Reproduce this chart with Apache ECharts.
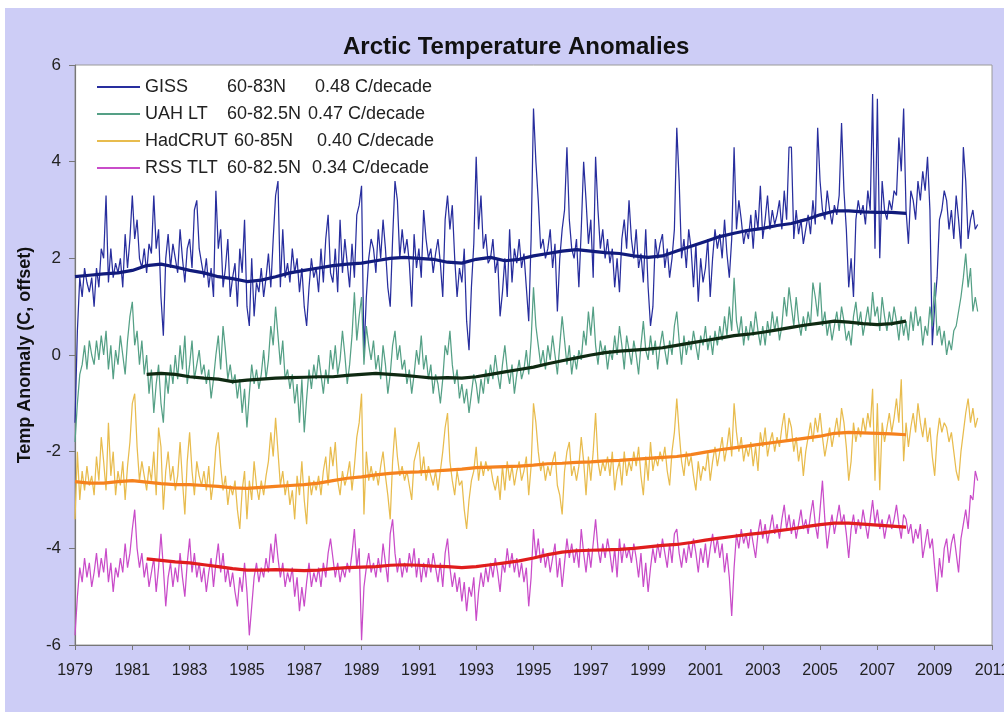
<!DOCTYPE html>
<html>
<head>
<meta charset="utf-8">
<script src="https://cdn.jsdelivr.net/npm/echarts@6/dist/echarts.min.js"></script>
<style>
  html, body { margin: 0; padding: 0; background: #ffffff; overflow: hidden; }
  #frame { position: absolute; left: 5px; top: 8px; width: 999px; height: 704px; background: #cdcdf6; }
  #chart { width: 999px; height: 704px; }
</style>
</head>
<body>
<div id="frame"><div id="chart"></div></div>
<script>
// Monthly anomalies (C, each series offset vertically), Jan 1979 onward
const START_YEAR = 1979;

const gissMonthly = [
  -1.4, 0.5, 1.6, 1.2, 1.8, 1.5, 1.3, 1.6, 1.0, 1.8, 1.4, 2.2,
  2.0, 3.3, 1.5, 2.2, 1.6, 1.9, 1.7, 2.0, 1.4, 2.5, 1.8, 2.4,
  3.3, 2.4, 2.8, 2.0, 1.8, 2.2, 1.7, 2.3, 2.1, 3.3, 2.2, 2.6,
  1.2, 0.4, 2.0, 2.5, 1.8, 2.3, 2.0, 1.7, 2.6, 2.0, 1.5, 2.2,
  2.4, 1.8, 3.0, 3.2, 2.2, 1.9, 1.6, 2.0, 1.4, 1.8, 1.2, 3.4,
  2.2, 2.6, 1.4, 1.8, 2.4, 1.2, 1.6, 1.9, 1.0, 2.2, 1.7, 2.8,
  1.0, 0.6, 2.0, 0.8, 1.5, 1.3, 1.8, 1.2, 1.6, 2.1, 1.4, 2.4,
  3.3, 3.6, 1.4, 2.6, 1.6, 1.9, 1.5, 2.2, 1.7, 2.0, 1.3, 1.8,
  1.0, 0.6, 1.4, 2.0, 1.6, 1.8, 1.3, 2.2, 1.5, 2.4, 2.9, 1.7,
  1.5, 2.2, 1.3, 2.8, 1.7, 2.4, 1.9, 1.4, 2.3, 1.6, 2.9, 3.1,
  3.5, 0.0, 1.2, 2.0, 2.4, 2.2, 1.7, 2.6, 2.0, 2.8, 2.2, 1.4,
  1.0, 2.4, 3.6, 3.2, 2.0, 2.6, 2.1, 2.4, 1.9, 1.0, 2.5, 1.8,
  2.2, 1.6, 3.0, 2.4, 2.0, 2.2, 1.7, 2.1, 2.4, 1.9, 1.2, 2.8,
  3.3, 2.6, 3.1, 2.0, 1.2, 1.8, 1.5, 2.2, 0.7, 0.1, 1.4, 2.3,
  4.1, 2.6, 3.3, 2.2, 2.5, 1.9, 2.0, 2.4, 1.7, 2.0, 0.8, 1.3,
  2.0, 1.2, 2.6, 1.5, 2.2, 1.9, 2.4, 1.8, 2.1, 1.4, 0.7, 2.4,
  5.1, 4.0, 3.2, 2.2, 2.4, 2.0, 2.2, 2.6, 1.8, 2.3, 0.9, 2.0,
  2.6, 3.0, 4.3, 2.8, 2.2, 2.0, 2.4, 1.4, 2.6, 4.0, 3.2, 2.3,
  2.8, 1.6, 4.1, 3.0, 2.2, 2.6, 2.0, 2.4, 1.9, 2.2, 1.4, 2.0,
  1.3, 2.4, 2.8, 2.2, 3.2, 2.4, 2.0, 2.6, 1.8, 2.1, 1.5, 2.6,
  1.4, 0.6, 1.0, 2.4, 2.0, 2.3, 2.5, 1.8, 2.2, 1.6, 2.0, 2.6,
  4.7, 3.6, 2.0, 2.4, 1.8, 2.6, 2.2, 1.4, 2.3, 1.1, 2.0, 1.5,
  1.8, 2.4, 1.2, 2.0, 2.6, 2.2, 2.5, 2.0, 2.8, 2.1, 1.6, 2.4,
  4.3, 2.6, 3.2, 2.8, 2.3, 2.6, 2.4, 2.9, 2.2, 3.0, 2.6, 3.5,
  2.4, 2.8, 3.3, 2.6, 3.0, 2.7, 2.9, 3.2, 2.6, 3.4, 2.8, 4.3,
  4.3, 2.4, 3.0, 2.5, 2.8, 2.3, 2.6, 2.9, 2.5, 3.2, 2.7, 4.7,
  3.6, 3.0, 2.8, 3.4, 3.0, 2.7, 3.1, 2.9, 3.3, 4.8, 3.4, 2.6,
  1.4, 2.0, 1.2, 2.8, 3.2, 2.9, 3.1, 2.7, 3.4, 3.0, 5.4, 2.2,
  5.3, 2.0, 3.6, 3.0, 2.8, 3.2, 3.0, 3.4, 3.3, 4.5, 3.8, 5.1,
  3.0, 2.3, 3.4, 3.2, 2.8, 3.6, 3.2, 3.8, 3.4, 4.1, 3.0, 0.2,
  1.0, 1.6, 2.8, 3.0, 3.4, 3.2, 2.6, 3.0, 2.4, 3.3, 2.8, 2.2,
  4.3, 3.6, 2.4, 2.8, 3.0, 2.6, 2.7
];

const uahMonthly = [
  -1.8, -1.0, -0.4, -0.2, 0.2, -0.3, 0.3, 0.0, -0.2, 0.3, -0.1, 0.4,
  0.0, 0.5, -0.3, 0.2, -0.5, 0.1, -0.2, 0.4, 0.0, -0.4, 0.3, 0.8,
  1.1, 0.2, 0.5, -0.2, 0.3, -0.4, 0.0, -0.8, -0.3, -1.2, -0.6, -0.2,
  -1.0, -1.4, -0.4, -0.8, -0.2, -0.6, 0.0, -0.5, 0.2, -0.3, 0.4, -0.6,
  -0.2, 0.3, -0.5, -0.2, 0.1, -0.4, -0.2, -0.6, -0.3, -0.9, -0.5, 0.0,
  0.4, -0.3, 0.6, 0.1, -0.5, -0.2, -0.6, -0.4, -0.9, -0.5, -1.2, -0.7,
  -1.5, -0.8, -0.2, -0.6, -0.3, -0.7, -0.4, 0.1, -0.5, -0.1, 0.6, 0.2,
  1.0, 0.4, -0.2, 0.3, -0.5, -0.3, -0.7, -0.4, -1.0, -0.6, -1.4, -0.5,
  -1.6, -0.9, -0.3, -0.7, -0.2, -0.5, 0.0, -0.4, -0.8, -0.3, -0.6, 0.1,
  -0.3, 0.2, -0.4, -0.1, 0.5, 0.0, -0.6, -0.2, 0.4, 1.3, 0.3, 0.8,
  1.2, -0.2, 0.6, 0.2, -0.1, 0.3, -0.3, 0.0, -0.5, 0.2, -0.2, -0.8,
  -0.4, 0.2, 0.5, -0.1, 0.2, -0.3, -0.1, -0.6, -0.3, -0.8, -0.4, 0.1,
  -0.2, 0.4, -0.3, 0.0, -0.5, -0.2, -0.8, -0.4, -0.6, -1.0, -0.5, 0.2,
  0.0, 0.5, -0.2, -0.6, -0.3, -0.9, -0.6, -1.0, -0.7, -1.2, -0.8, -0.4,
  -0.6, -1.0, -0.5, -0.8, -0.3, -0.6, -0.2, -0.5, 0.0, -0.4, -0.7, -0.2,
  0.2, -0.3, -0.6, -0.2, -0.8, -0.4, -0.1, -0.5, -0.3, 0.1, -0.4, 0.3,
  1.4, 0.6, 0.2, -0.2, 0.1, -0.3, 0.2, -0.1, 0.4, 0.0, -0.4, 0.2,
  0.8, 0.3, -0.2, 0.2, -0.4, 0.0, -0.3, 0.1, -0.1, 0.5, 0.2, 0.9,
  0.4, 1.0, 0.2, -0.2, 0.3, 0.0, 0.2, -0.3, 0.1, -0.1, 0.4, 0.0,
  0.6, 0.2, -0.3, 0.4, 0.1, -0.2, 0.3, 0.0, -0.4, 0.2, 0.7, 0.1,
  -0.1, 0.4, 0.0, 0.3, -0.3, 0.2, 0.5, 0.1, -0.2, 0.3, 0.0, 0.6,
  0.9, 0.3, -0.2, 0.4, 0.0, 0.3, 0.1, 0.5, 0.2, -0.1, 0.4, 0.2,
  0.6, 0.1, 0.4, 0.0, 0.5, 0.2, 0.6, 0.3, 0.8, 0.4, 1.0, 0.5,
  1.6, 0.7, 0.4, 0.8, 0.2, 0.6, 0.3, 0.7, 0.4, 0.9, 0.5, 0.2,
  0.6, 0.2, 0.7, 0.4, 0.9, 0.5, 0.8, 0.3, 0.6, 1.2, 0.8, 1.4,
  1.0, 0.6, 1.2, 0.7, 0.4, 0.8, 0.5, 0.9, 0.6, 1.5, 1.2, 0.8,
  1.5, 0.6, 0.9, 0.4, 0.7, 0.3, 0.6, 0.9, 0.5, 1.0, 0.7, 0.3,
  0.5, 0.2, 0.8, 1.1, 0.6, 0.9, 0.4, 0.7, 1.0, 0.6, 1.3, 0.8,
  1.0, 0.5, 1.2, 0.8, 0.5, 0.9, 0.6, 1.0, 0.7, 0.3, 0.8, 0.4,
  0.7, 0.3, 0.9, 0.5, 1.0, 0.6, 0.8, 0.2, 0.6, 0.4, 1.0, 0.6,
  1.5, 0.4, 0.6, 0.2, 0.5, 0.0, 0.3, 0.1, 0.5, 0.6, 0.9, 1.2,
  1.6, 2.1, 1.4, 1.8, 0.9, 1.2, 0.9
];

const hadcrutMonthly = [
  -3.4, -2.0, -3.0, -2.4, -2.8, -2.3, -2.7, -2.5, -2.9, -2.1, -2.6, -1.7,
  -2.2, -2.8, -1.4, -2.5, -2.0, -2.9, -2.4, -2.7, -2.2, -3.0, -2.3, -1.8,
  -1.0, -0.8, -1.9, -2.6, -2.2, -2.5, -2.8, -2.3, -2.6, -2.0, -2.9, -1.5,
  -1.9, -3.2, -2.4, -2.0, -2.6, -2.3, -2.8, -2.5, -1.8, -2.6, -3.3, -2.2,
  -1.6, -2.4, -2.9, -2.2, -2.5, -2.7, -2.4, -2.8, -2.3, -3.0, -2.6, -1.9,
  -1.6, -2.3, -2.8, -2.5, -3.1, -2.7, -2.9, -2.6, -3.2, -3.6, -2.8, -2.4,
  -3.4, -2.6, -3.0, -2.2, -2.7, -3.0, -2.6, -2.9, -2.5, -2.2, -1.6, -2.1,
  -1.3, -2.0, -2.7, -2.4, -2.9, -2.6, -3.1, -2.8, -3.4, -2.5, -2.9, -2.2,
  -3.0, -3.5, -2.5, -2.9, -2.6, -2.8, -2.5, -2.9, -2.4, -2.1, -2.7, -1.9,
  -2.3, -1.8, -2.6, -2.9, -2.4, -2.7, -2.5, -2.2, -2.8, -2.3, -1.7, -1.4,
  -0.8, -3.3, -2.0, -2.6, -2.3, -2.6, -2.4, -2.7, -2.3, -2.0, -2.5, -2.9,
  -3.4, -2.2, -1.5, -2.1, -2.5, -2.3, -2.6, -2.4, -2.7, -3.0, -2.2, -2.0,
  -1.8, -2.5, -2.1, -2.6, -2.3, -2.5, -2.7, -2.4, -2.8, -2.4, -2.0, -1.5,
  -1.2, -2.2, -2.6, -2.9, -2.4, -2.7, -2.6, -3.2, -3.6, -3.0, -2.6, -2.4,
  -1.9, -2.6, -2.2, -2.5, -2.2, -2.4, -2.3, -2.6, -2.8, -2.5, -3.0, -2.3,
  -2.8, -2.2, -2.6, -2.3, -2.7, -2.4, -2.2, -2.6, -2.4, -2.1, -2.9, -2.3,
  -1.0, -1.4, -2.0, -2.4, -2.2, -2.6, -2.3, -2.5, -2.2, -2.0, -2.7, -2.9,
  -3.3, -2.4, -2.0, -1.8, -2.5, -2.3, -2.6, -2.3, -1.7, -2.2, -2.9, -2.1,
  -2.6, -2.0, -1.2, -2.2, -2.5, -2.2, -2.4, -2.1, -2.5, -2.0, -2.8, -2.4,
  -2.2, -2.7, -2.0, -2.5, -2.2, -2.4, -2.0, -2.3, -1.9, -2.5, -2.9, -2.1,
  -2.6, -1.8, -2.4, -2.1, -2.3, -2.0, -2.2, -1.9, -2.4, -2.7, -2.0, -1.6,
  -0.9, -1.6, -2.2, -2.5, -2.0, -2.3, -2.1, -2.5, -2.8, -2.2, -2.6, -2.3,
  -2.4, -2.0, -2.6, -2.2, -1.9, -2.3, -2.0, -1.7, -2.2, -1.9, -1.5, -2.1,
  -1.0, -1.6, -2.0, -1.7, -2.2, -1.9, -2.1, -1.8, -2.3, -1.9, -2.4, -1.6,
  -1.9, -1.5, -2.1, -1.8, -1.6, -2.0, -1.7, -1.9, -1.5, -1.2, -1.8, -1.3,
  -1.5, -2.0, -1.7, -2.2, -1.9, -2.5, -2.0, -1.7, -1.4, -1.8, -1.3, -1.6,
  -1.2, -1.7, -2.1, -1.8, -1.5, -1.9, -1.6, -1.3, -1.7, -1.1, -1.4, -1.9,
  -2.6, -2.2, -1.4, -1.8, -1.5, -1.7, -1.3, -1.6, -1.2, -1.5, -0.7, -2.6,
  -1.0, -2.8, -1.4, -1.8, -1.5, -1.2, -1.6, -1.3, -0.9, -1.4, -0.5, -2.2,
  -1.4, -1.9, -1.5, -1.2, -1.6, -1.0, -1.4, -1.7, -1.3, -1.8, -1.5, -2.1,
  -2.5, -1.7, -1.3, -1.6, -1.4, -1.5, -1.8, -1.6, -2.0, -2.4, -2.6, -2.0,
  -1.6, -1.2, -0.9, -1.4, -1.1, -1.5, -1.3
];

const rssMonthly = [
  -5.8, -5.0, -4.4, -4.7, -4.2, -4.6, -4.3, -4.8, -4.5, -4.1, -4.6, -4.2,
  -4.5, -4.0, -4.7, -4.3, -4.9, -4.4, -4.6, -4.2, -4.5, -3.9, -4.4, -4.1,
  -3.6, -3.2, -4.0, -4.4, -4.1, -4.6, -4.3, -4.8, -4.5, -4.2, -4.9, -4.4,
  -3.7, -4.4, -5.2, -4.6, -4.3, -4.8, -4.4, -4.7, -4.1, -4.6, -5.0, -4.3,
  -3.8, -4.5, -4.1, -4.6, -4.3, -4.7, -4.4, -4.9, -4.5, -4.2, -4.8, -4.3,
  -3.9, -4.5, -4.1, -4.7, -4.4, -4.8, -4.5, -4.9, -5.2, -4.6, -4.9, -4.3,
  -4.9, -5.8, -5.2, -4.6, -4.3, -4.7, -4.4, -4.6, -4.2, -4.5, -3.9, -4.3,
  -3.7, -4.2, -4.6, -4.3, -4.8, -4.5, -4.7, -4.4, -5.0, -4.6, -5.3, -4.8,
  -5.2, -4.7, -4.3, -4.8, -4.5, -4.7, -4.4, -4.8, -4.3, -4.6, -4.1, -3.8,
  -4.2, -4.6, -4.3, -4.7, -4.4, -4.6, -4.3, -4.5, -4.1, -3.6, -4.4, -4.0,
  -5.9, -4.8, -4.4, -4.1, -4.5, -4.3, -4.6, -4.2, -4.5, -3.9, -4.3, -4.7,
  -3.7, -3.4, -4.1, -4.5, -4.2, -4.6, -4.3, -4.5, -4.1, -4.4, -4.0, -4.6,
  -4.2, -4.7, -4.3, -4.6, -4.2, -4.5, -4.1, -4.4, -4.7, -4.3, -4.8, -4.1,
  -3.8, -4.4, -4.8, -4.5, -4.9, -4.6, -5.1, -4.7, -5.3, -4.8, -5.0, -4.6,
  -5.5, -4.9, -4.5, -4.8, -4.4, -4.7, -4.3, -4.6, -4.2, -4.5, -4.9, -4.3,
  -4.5, -4.0, -4.4, -4.1, -4.5, -4.2, -4.6, -4.3, -4.7, -4.4, -5.2, -4.6,
  -3.6, -4.2, -3.8, -4.3, -4.0, -4.4, -4.1, -4.5, -4.2, -3.9, -4.6, -4.2,
  -4.8, -4.3, -3.8, -4.2, -3.9, -4.3, -4.0, -4.4, -3.6, -4.1, -4.5, -4.0,
  -4.4, -3.9, -3.4, -4.0, -4.3, -3.9, -4.2, -3.8, -4.1, -4.5, -4.0, -4.6,
  -3.8, -4.3, -3.9, -4.2, -4.0, -4.3, -3.9, -4.2, -4.6, -4.1, -4.8, -4.3,
  -4.9, -4.4, -4.0, -4.3, -3.9, -4.2, -3.8, -4.1, -4.4, -3.9, -4.3, -3.7,
  -3.6, -4.1, -4.4, -4.0, -4.3, -3.9, -4.2, -3.8, -4.1, -4.5, -4.0, -4.3,
  -3.9, -4.4, -4.0, -3.7, -4.1, -3.8, -4.2, -3.9, -4.5, -4.1, -4.6, -5.4,
  -4.4, -3.7, -4.0, -3.6, -3.9, -3.7, -4.0, -3.6, -3.9, -4.2, -3.7, -3.4,
  -3.8, -3.5, -3.9, -3.6, -3.3, -3.7, -3.5, -3.8, -3.4, -3.1, -3.6, -3.3,
  -3.7, -3.4, -3.8, -3.5, -3.2, -3.6, -3.4, -3.7, -3.3, -3.0, -3.5, -3.8,
  -3.2, -2.6, -3.4, -4.0, -3.6, -3.3, -3.7, -3.4, -3.1, -3.5, -3.3, -3.7,
  -4.2, -3.6, -3.3, -3.7, -3.4, -3.6, -3.2, -3.5, -3.8, -3.4, -3.0, -3.5,
  -3.2, -3.6, -3.4, -3.8, -3.5, -3.3, -3.6, -3.4, -3.1, -3.5, -3.8, -3.3,
  -3.4, -3.7, -3.5, -3.9, -3.6, -3.8, -3.5, -4.2, -3.9, -3.6, -4.0, -3.8,
  -4.4, -4.9, -4.2, -4.6, -4.0, -3.8, -4.3, -3.9, -3.7, -4.1, -4.5, -3.8,
  -3.5, -3.2, -3.6, -2.9, -3.0, -2.4, -2.6
];

// Running means, one value every half year
const gissSmoothStart = 1979;
const gissSmooth = [
  1.62, 1.65, 1.68, 1.70, 1.75, 1.85, 1.88, 1.82, 1.75, 1.70,
  1.62, 1.58, 1.52, 1.55, 1.62, 1.70, 1.75, 1.80, 1.85, 1.88,
  1.90, 1.95, 2.00, 2.02, 2.00, 1.98, 1.92, 1.90, 1.98, 2.02,
  1.95, 1.98, 2.05, 2.10, 2.15, 2.18, 2.15, 2.12, 2.10, 2.05,
  2.02, 2.05, 2.15, 2.25, 2.35, 2.45, 2.52, 2.58, 2.62, 2.68,
  2.72, 2.80, 2.90, 2.98, 2.98, 2.96, 2.95, 2.95, 2.93
];
const uahSmoothStart = 1981.5;
const uahSmooth = [
  -0.40, -0.38, -0.40, -0.45, -0.48, -0.50, -0.55, -0.52, -0.50, -0.48,
  -0.47, -0.46, -0.45, -0.45, -0.42, -0.40, -0.38, -0.40, -0.42, -0.45,
  -0.48, -0.47, -0.48, -0.45, -0.40, -0.35, -0.30, -0.25, -0.18, -0.12,
  -0.06, 0.00, 0.05, 0.08, 0.10, 0.12, 0.15, 0.20, 0.25, 0.30,
  0.35, 0.40, 0.43, 0.47, 0.52, 0.57, 0.62, 0.66, 0.70, 0.68,
  0.65, 0.63, 0.65, 0.70
];
const hadcrutSmoothStart = 1979;
const hadcrutSmooth = [
  -2.62, -2.65, -2.65, -2.62, -2.60, -2.63, -2.66, -2.68, -2.68, -2.70,
  -2.72, -2.75, -2.76, -2.74, -2.72, -2.70, -2.68, -2.65, -2.60, -2.55,
  -2.52, -2.48, -2.45, -2.43, -2.42, -2.40, -2.38, -2.36, -2.33, -2.32,
  -2.31, -2.30, -2.28, -2.25, -2.24, -2.22, -2.21, -2.19, -2.18, -2.16,
  -2.14, -2.12, -2.10, -2.06, -2.01, -1.96, -1.92, -1.88, -1.84, -1.80,
  -1.76, -1.72, -1.68, -1.62, -1.60, -1.61, -1.62, -1.63, -1.65
];
const rssSmoothStart = 1981.5;
const rssSmooth = [
  -4.22, -4.25, -4.28, -4.30, -4.34, -4.38, -4.42, -4.45, -4.45, -4.44,
  -4.45, -4.46, -4.45, -4.42, -4.40, -4.39, -4.38, -4.35, -4.34, -4.35,
  -4.37, -4.38, -4.40, -4.38, -4.34, -4.30, -4.26, -4.20, -4.13, -4.08,
  -4.05, -4.04, -4.03, -4.02, -4.00, -3.97, -3.94, -3.92, -3.88, -3.83,
  -3.79, -3.75, -3.71, -3.68, -3.64, -3.60, -3.55, -3.51, -3.48, -3.48,
  -3.50, -3.52, -3.54, -3.56
];

const seriesNames = ['GISS', 'UAH LT', 'HadCRUT', 'RSS TLT'];
const seriesRegions = ['60-83N', '60-82.5N', '60-85N', '60-82.5N'];
const seriesTrends = ['0.48 C/decade', '0.47 C/decade', '0.40 C/decade', '0.34 C/decade'];

const monthlyPoints = arr => arr.map((v, i) => [START_YEAR + i / 12, v]);
const halfYearPoints = (start, arr) => arr.map((v, i) => [start + i * 0.5, v]);

const colors = {
  giss: '#282e9e', gissSmooth: '#111b7c',
  uah: '#55a086', uahSmooth: '#0f2a12',
  had: '#e8bc4e', hadSmooth: '#f5821e',
  rss: '#c94cc9', rssSmooth: '#e01d1d'
};

// legend column styles: name column, region column
const nameStyle = ['n1', 'n1', 'n2', 'n1'];
const regionStyle = ['r1', 'r2', 'r3', 'r4'];
const FONT = 'Liberation Sans, Arial, sans-serif';
const legendText = (w) => ({ width: w, fontSize: 18, fontFamily: FONT, color: '#222' });

const chart = echarts.init(document.getElementById('chart'));
const monthlyLine = (name, data, color) => ({
  name, type: 'line', data: monthlyPoints(data), showSymbol: false, symbol: 'none',
  color, lineStyle: { width: 1.25, color }, animation: false, z: 2
});
const smoothLine = (name, start, data, color) => ({
  name, type: 'line', data: halfYearPoints(start, data), showSymbol: false, symbol: 'none',
  color, lineStyle: { width: 3.2, color }, animation: false, z: 3
});

chart.setOption({
  backgroundColor: 'transparent',
  title: {
    text: 'Arctic Temperature Anomalies', left: 333, top: 22,
    textStyle: { fontFamily: FONT, fontWeight: 'bold', fontSize: 24, color: '#111' }
  },
  legend: {
    data: seriesNames, orient: 'vertical', left: 87, top: 65,
    icon: 'rect', itemWidth: 43, itemHeight: 2, itemGap: 9,
    formatter: name => {
      const i = seriesNames.indexOf(name);
      return `{${nameStyle[i]}|${name}}{${regionStyle[i]}|${seriesRegions[i]}}{t|${seriesTrends[i]}}`;
    },
    textStyle: {
      fontFamily: FONT, fontSize: 18, color: '#222', lineHeight: 18,
      rich: {
        n1: legendText(82), n2: legendText(89),
        r1: legendText(88), r2: legendText(81), r3: legendText(83), r4: legendText(85),
        t: legendText(undefined)
      }
    }
  },
  grid: {
    left: 70, right: 12, top: 57, bottom: 67, show: true, outerBoundsMode: 'none',
    backgroundColor: '#ffffff', borderColor: '#9a9a9a', borderWidth: 1
  },
  xAxis: {
    type: 'value', min: 1979, max: 2011, interval: 2,
    axisLine: { onZero: false, lineStyle: { color: '#777', width: 1.2 } },
    axisTick: { show: true, length: 5, lineStyle: { color: '#777' } },
    splitLine: { show: false },
    axisLabel: { formatter: v => String(v), fontFamily: FONT, fontSize: 16, color: '#222', margin: 18 }
  },
  yAxis: {
    type: 'value', min: -6, max: 6, interval: 2,
    name: 'Temp Anomaly (C, offset)', nameLocation: 'middle', nameGap: 41,
    nameTextStyle: { fontFamily: FONT, fontWeight: 'bold', fontSize: 18, color: '#111' },
    axisLine: { show: true, onZero: false, lineStyle: { color: '#777', width: 1.2 } },
    axisTick: { show: true, length: 6, lineStyle: { color: '#777' } },
    splitLine: { show: false },
    axisLabel: { fontFamily: FONT, fontSize: 17, color: '#222', margin: 14 }
  },
  series: [
    monthlyLine('GISS', gissMonthly, colors.giss),
    monthlyLine('UAH LT', uahMonthly, colors.uah),
    monthlyLine('HadCRUT', hadcrutMonthly, colors.had),
    monthlyLine('RSS TLT', rssMonthly, colors.rss),
    smoothLine('GISS mean', gissSmoothStart, gissSmooth, colors.gissSmooth),
    smoothLine('UAH LT mean', uahSmoothStart, uahSmooth, colors.uahSmooth),
    smoothLine('HadCRUT mean', hadcrutSmoothStart, hadcrutSmooth, colors.hadSmooth),
    smoothLine('RSS TLT mean', rssSmoothStart, rssSmooth, colors.rssSmooth)
  ]
});
</script>
</body>
</html>
